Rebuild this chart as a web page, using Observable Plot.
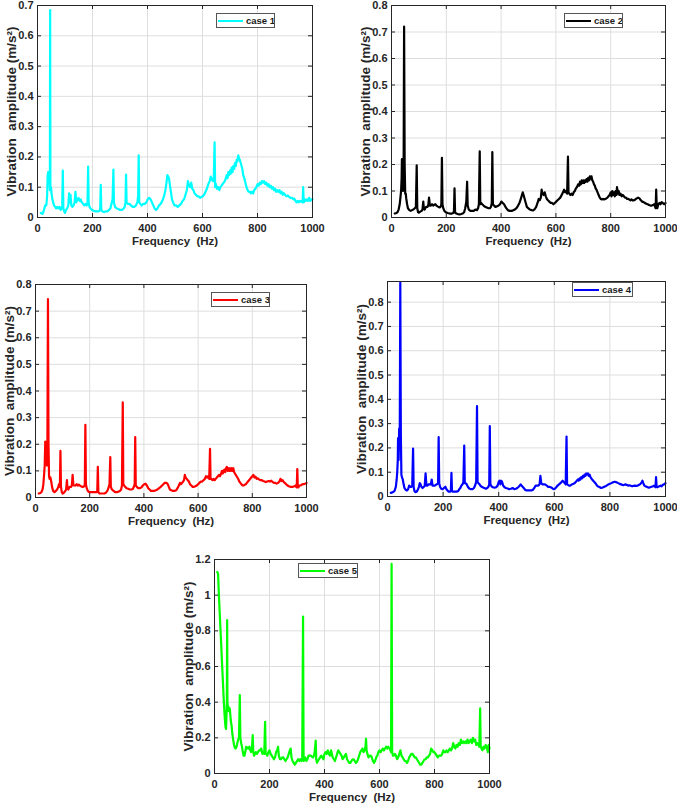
<!DOCTYPE html>
<html>
<head>
<meta charset="utf-8">
<script src="https://cdn.jsdelivr.net/npm/d3@7"></script>
<script src="https://cdn.jsdelivr.net/npm/@observablehq/plot@0.6"></script>
<style>
  body { margin: 0; background: #fff; }
  #page { position: relative; width: 677px; height: 804px; overflow: hidden; background: #fff;
          font-family: "Liberation Sans", Arial, Helvetica, sans-serif; }
  .panel { position: absolute; }
  .panel svg { display: block; }
  .legend { position: absolute; box-sizing: border-box; border: 1px solid #555; background: #fff;
            display: flex; align-items: center; white-space: nowrap; overflow: hidden;
            font-weight: bold; font-size: 9.5px; color: #1a1a1a; }
  .legend .swatch { display: inline-block; flex: none; width: 25px; height: 2px; margin: 0 3px 0 1px; }
</style>
</head>
<body>
<div id="page"></div>
<script>
// Spectra: [frequency (Hz), vibration amplitude (m/s^2)]
const case1 = [[12,.015],[18,.012],[22,.02],[25,.03],[28,.04],[32,.04],[35,.07],[37,.14],[39,.15],[41,.12],[43,.15],[45,.09],[46,.685],[47,.09],[49,.1],[51,.08],[54,.06],[57,.05],[60,.04],[64,.035],[68,.03],[72,.035],[76,.03],[80,.035],[84,.025],[88,.03],[90,.04],[92,.155],[94,.03],[97,.02],[100,.015],[104,.025],[108,.03],[112,.04],[115,.08],[117,.05],[120,.075],[123,.04],[127,.035],[131,.04],[135,.05],[138,.085],[141,.05],[145,.06],[149,.065],[153,.055],[157,.06],[161,.05],[166,.045],[170,.04],[175,.045],[179,.04],[182,.05],[184,.168],[186,.05],[189,.035],[193,.03],[198,.025],[205,.022],[212,.02],[220,.02],[226,.022],[228,.03],[230,.108],[232,.025],[236,.02],[242,.018],[248,.02],[254,.02],[260,.025],[265,.03],[269,.045],[273,.06],[276,.158],[278,.05],[282,.035],[288,.03],[294,.028],[300,.025],[306,.025],[312,.028],[317,.035],[320,.05],[322,.142],[324,.05],[328,.045],[334,.045],[340,.04],[346,.035],[352,.035],[358,.04],[363,.05],[366,.07],[368,.205],[370,.05],[374,.045],[379,.04],[384,.045],[390,.045],[396,.05],[401,.06],[406,.065],[411,.06],[416,.05],[421,.04],[426,.03],[431,.025],[436,.03],[442,.04],[448,.045],[454,.055],[460,.07],[465,.09],[469,.115],[472,.14],[475,.135],[478,.13],[481,.11],[485,.085],[489,.06],[493,.05],[498,.04],[504,.04],[510,.035],[516,.04],[522,.045],[528,.055],[533,.06],[538,.075],[543,.09],[547,.12],[551,.105],[555,.1],[559,.115],[563,.095],[567,.09],[571,.08],[576,.075],[581,.07],[586,.07],[591,.065],[596,.068],[601,.07],[606,.075],[611,.085],[616,.095],[621,.11],[626,.12],[630,.135],[634,.125],[638,.12],[641,.13],[644,.248],[646,.1],[649,.11],[653,.095],[657,.1],[661,.09],[665,.1],[669,.105],[673,.11],[677,.115],[681,.12],[685,.13],[688,.14],[691,.13],[694,.15],[697,.14],[700,.155],[703,.145],[706,.165],[709,.15],[712,.17],[715,.16],[718,.18],[721,.17],[724,.19],[727,.185],[730,.205],[733,.195],[736,.19],[739,.18],[742,.17],[745,.16],[748,.14],[752,.13],[756,.115],[760,.1],[764,.09],[768,.085],[772,.085],[776,.08],[780,.085],[784,.08],[788,.09],[792,.095],[796,.1],[800,.11],[804,.105],[808,.115],[812,.11],[816,.12],[820,.115],[824,.12],[828,.11],[832,.115],[836,.105],[840,.11],[844,.1],[848,.105],[852,.095],[856,.1],[860,.09],[864,.095],[868,.085],[872,.09],[876,.085],[880,.09],[884,.08],[888,.085],[892,.075],[896,.08],[900,.075],[905,.07],[910,.072],[915,.068],[920,.065],[925,.065],[930,.06],[934,.062],[938,.055],[942,.05],[946,.055],[950,.05],[954,.055],[958,.052],[962,.055],[964,.05],[966,.1],[968,.05],[972,.06],[976,.055],[980,.06],[984,.055],[988,.065],[992,.055],[996,.06],[1000,.06]];

const case2 = [[12,.015],[18,.017],[22,.02],[26,.03],[30,.05],[33,.08],[35,.1],[37,.15],[38,.22],[40,.13],[42,.1],[44,.12],[46,.72],[48,.2],[50,.09],[52,.09],[54,.07],[57,.05],[60,.035],[65,.028],[70,.025],[75,.028],[80,.03],[85,.035],[89,.04],[92,.197],[94,.035],[97,.02],[100,.018],[105,.022],[110,.025],[113,.03],[116,.06],[118,.035],[121,.03],[126,.04],[131,.04],[134,.045],[137,.075],[140,.045],[144,.045],[148,.05],[152,.045],[156,.048],[160,.05],[164,.045],[168,.042],[172,.04],[176,.038],[180,.042],[182,.05],[184,.225],[186,.05],[189,.035],[193,.025],[198,.02],[205,.017],[212,.015],[220,.015],[226,.017],[228,.025],[230,.11],[232,.02],[236,.015],[242,.013],[248,.012],[254,.013],[260,.015],[265,.02],[269,.035],[273,.06],[276,.135],[278,.045],[282,.03],[288,.025],[294,.025],[300,.025],[306,.03],[312,.028],[316,.035],[319,.05],[322,.25],[324,.05],[327,.055],[331,.05],[336,.045],[342,.04],[348,.038],[354,.035],[359,.035],[363,.04],[366,.055],[368,.247],[370,.05],[374,.045],[379,.04],[385,.042],[391,.045],[396,.05],[401,.06],[406,.055],[411,.05],[416,.04],[421,.032],[426,.027],[432,.025],[438,.025],[444,.027],[450,.03],[456,.035],[462,.045],[467,.055],[472,.07],[476,.085],[479,.095],[482,.085],[486,.07],[490,.055],[494,.04],[499,.035],[505,.03],[511,.028],[517,.027],[523,.032],[528,.04],[533,.055],[537,.07],[541,.065],[545,.075],[548,.105],[551,.09],[555,.085],[559,.095],[563,.08],[567,.07],[571,.065],[576,.06],[581,.055],[586,.055],[591,.05],[596,.055],[601,.06],[606,.065],[611,.07],[616,.075],[621,.085],[626,.095],[630,.105],[634,.095],[638,.1],[641,.09],[644,.23],[646,.095],[649,.09],[653,.085],[657,.09],[661,.085],[665,.095],[669,.1],[673,.11],[677,.115],[681,.125],[685,.12],[688,.135],[691,.125],[694,.14],[697,.13],[700,.14],[703,.13],[706,.14],[709,.135],[712,.145],[715,.135],[718,.15],[721,.14],[724,.155],[727,.145],[730,.155],[733,.14],[736,.135],[739,.125],[742,.12],[745,.11],[748,.105],[752,.095],[756,.085],[760,.075],[764,.07],[768,.068],[772,.07],[776,.068],[780,.07],[784,.072],[788,.075],[792,.08],[796,.085],[800,.095],[803,.08],[806,.1],[809,.085],[812,.095],[815,.08],[818,.1],[821,.085],[823,.115],[826,.09],[829,.1],[832,.085],[836,.09],[840,.08],[844,.085],[848,.08],[852,.075],[856,.075],[860,.07],[864,.07],[868,.068],[872,.065],[876,.068],[880,.065],[885,.065],[890,.068],[895,.072],[900,.075],[905,.072],[910,.065],[915,.06],[920,.058],[925,.055],[930,.052],[935,.05],[940,.047],[945,.045],[950,.045],[955,.047],[959,.05],[962,.04],[964,.035],[966,.105],[968,.04],[970,.035],[974,.05],[978,.055],[982,.05],[986,.058],[990,.055],[995,.05],[1000,.055]];

const case3 = [[12,.015],[18,.017],[22,.02],[26,.03],[29,.05],[32,.09],[34,.12],[36,.21],[38,.13],[40,.2],[42,.12],[44,.22],[46,.745],[48,.2],[50,.08],[52,.07],[55,.075],[58,.06],[61,.04],[65,.025],[70,.02],[75,.025],[80,.03],[84,.04],[87,.05],[90,.04],[92,.175],[94,.04],[97,.02],[100,.015],[105,.018],[110,.025],[113,.03],[116,.065],[118,.035],[121,.03],[126,.04],[131,.04],[134,.045],[137,.085],[140,.045],[144,.045],[148,.045],[152,.05],[156,.045],[160,.048],[164,.045],[168,.042],[172,.04],[176,.04],[180,.042],[182,.05],[184,.273],[186,.05],[189,.035],[193,.025],[198,.02],[205,.02],[212,.02],[220,.02],[226,.02],[228,.025],[230,.115],[232,.02],[236,.015],[242,.015],[248,.015],[254,.015],[260,.018],[265,.025],[269,.035],[273,.05],[276,.152],[278,.04],[282,.03],[288,.025],[294,.02],[300,.02],[306,.022],[312,.025],[316,.03],[319,.045],[322,.357],[324,.05],[327,.045],[331,.04],[336,.035],[342,.033],[348,.03],[354,.03],[359,.032],[363,.04],[366,.05],[368,.227],[370,.045],[374,.04],[379,.035],[385,.035],[391,.038],[396,.045],[401,.05],[406,.052],[411,.045],[416,.035],[421,.03],[426,.025],[432,.025],[438,.025],[444,.027],[450,.03],[456,.035],[462,.04],[467,.045],[472,.05],[476,.055],[480,.055],[484,.055],[488,.05],[492,.04],[496,.03],[501,.027],[507,.025],[513,.025],[519,.027],[524,.035],[529,.045],[533,.055],[537,.05],[541,.055],[545,.06],[548,.065],[551,.085],[554,.075],[558,.07],[562,.065],[566,.06],[570,.05],[575,.045],[580,.04],[585,.04],[590,.042],[595,.045],[600,.05],[605,.055],[610,.06],[615,.06],[620,.065],[625,.07],[629,.08],[633,.075],[637,.08],[641,.07],[644,.183],[646,.07],[649,.07],[653,.065],[657,.07],[661,.065],[665,.07],[669,.075],[673,.08],[677,.085],[681,.08],[685,.09],[688,.1],[691,.09],[694,.1],[697,.105],[700,.095],[703,.11],[706,.115],[709,.1],[712,.11],[715,.1],[718,.11],[721,.1],[724,.11],[727,.1],[730,.11],[733,.095],[736,.09],[739,.085],[742,.08],[745,.075],[748,.07],[752,.06],[756,.055],[760,.05],[764,.045],[768,.045],[772,.048],[776,.05],[780,.055],[784,.06],[788,.065],[792,.07],[796,.075],[800,.08],[804,.085],[808,.075],[812,.078],[816,.07],[820,.072],[825,.068],[830,.065],[835,.065],[840,.062],[845,.06],[850,.058],[855,.06],[860,.062],[865,.06],[870,.063],[875,.058],[880,.055],[885,.055],[890,.052],[895,.055],[900,.06],[904,.07],[908,.062],[912,.065],[916,.058],[920,.055],[925,.05],[930,.045],[935,.042],[940,.04],[945,.04],[950,.04],[955,.042],[959,.045],[962,.04],[964,.038],[966,.107],[968,.04],[970,.038],[974,.045],[978,.045],[982,.048],[986,.05],[990,.05],[995,.052],[1000,.055]];

const case4 = [[12,.015],[18,.017],[22,.02],[26,.025],[30,.04],[33,.07],[35,.1],[37,.15],[38,.24],[40,.15],[42,.28],[44,.2],[46,.88],[48,.25],[50,.09],[52,.08],[55,.07],[58,.05],[61,.035],[65,.028],[70,.025],[74,.03],[78,.045],[82,.04],[86,.04],[89,.045],[92,.197],[94,.04],[97,.022],[100,.018],[105,.02],[110,.03],[113,.04],[116,.055],[119,.05],[122,.04],[126,.035],[131,.04],[134,.045],[137,.095],[140,.045],[144,.045],[148,.05],[152,.05],[156,.05],[159,.07],[162,.045],[166,.045],[170,.045],[174,.048],[178,.05],[182,.055],[184,.245],[186,.055],[189,.04],[193,.032],[198,.03],[203,.035],[208,.04],[212,.03],[216,.025],[220,.02],[226,.02],[228,.025],[230,.097],[232,.022],[236,.02],[242,.02],[248,.02],[254,.022],[258,.03],[262,.035],[266,.045],[270,.05],[273,.06],[276,.21],[278,.055],[281,.055],[285,.05],[289,.04],[294,.033],[300,.03],[306,.03],[311,.035],[315,.045],[319,.06],[322,.372],[324,.06],[327,.055],[331,.05],[336,.042],[342,.038],[348,.035],[354,.032],[359,.035],[363,.04],[366,.05],[368,.29],[370,.05],[374,.042],[379,.038],[385,.036],[391,.038],[396,.045],[400,.06],[403,.065],[406,.05],[409,.065],[412,.06],[416,.045],[421,.038],[426,.035],[432,.033],[438,.03],[444,.032],[450,.035],[456,.03],[462,.032],[467,.035],[472,.04],[476,.045],[479,.05],[482,.045],[486,.04],[490,.035],[495,.028],[500,.025],[506,.025],[512,.025],[518,.025],[523,.028],[528,.035],[533,.045],[538,.045],[543,.045],[547,.05],[550,.085],[553,.055],[557,.05],[561,.05],[565,.05],[569,.048],[573,.045],[577,.04],[582,.04],[587,.038],[592,.035],[597,.03],[602,.032],[607,.038],[612,.045],[617,.05],[622,.055],[626,.06],[630,.065],[634,.06],[638,.055],[641,.05],[644,.247],[646,.05],[649,.048],[653,.045],[657,.045],[661,.048],[665,.05],[669,.052],[673,.055],[677,.06],[681,.065],[685,.07],[688,.065],[691,.075],[694,.07],[697,.08],[700,.075],[703,.085],[706,.08],[709,.09],[712,.085],[715,.095],[718,.09],[721,.095],[724,.085],[727,.09],[730,.08],[733,.075],[736,.07],[740,.065],[744,.06],[748,.055],[752,.048],[756,.042],[760,.04],[764,.038],[768,.035],[772,.036],[776,.038],[780,.04],[784,.042],[788,.045],[792,.048],[796,.05],[800,.052],[805,.055],[810,.058],[815,.06],[820,.06],[825,.058],[830,.055],[835,.052],[840,.05],[845,.048],[850,.047],[855,.05],[860,.048],[865,.045],[870,.046],[875,.044],[880,.042],[885,.044],[890,.045],[895,.044],[900,.045],[905,.048],[910,.052],[914,.058],[917,.065],[920,.055],[924,.045],[928,.042],[932,.04],[936,.038],[940,.036],[945,.038],[950,.04],[955,.042],[959,.045],[962,.04],[964,.038],[966,.08],[968,.04],[970,.038],[974,.04],[978,.042],[982,.045],[986,.042],[990,.048],[995,.05],[1000,.055]];

const case5 = [[10,1.13],[13,1.12],[16,1.0],[19,.9],[22,.8],[25,.7],[28,.6],[31,.5],[34,.4],[37,.32],[40,.26],[42,.25],[44,.35],[45,.4],[46,.86],[47,.4],[49,.37],[51,.35],[53,.37],[56,.36],[59,.3],[62,.27],[65,.22],[68,.19],[71,.16],[74,.145],[77,.14],[80,.15],[83,.17],[86,.19],[89,.2],[92,.44],[94,.2],[97,.17],[100,.15],[103,.12],[106,.1],[109,.1],[112,.12],[115,.15],[118,.14],[121,.145],[124,.14],[127,.15],[130,.13],[133,.12],[136,.14],[139,.215],[141,.12],[144,.1],[147,.11],[150,.12],[154,.11],[158,.12],[162,.13],[166,.13],[170,.14],[174,.11],[178,.12],[181,.11],[184,.29],[186,.11],[189,.11],[192,.1],[196,.12],[200,.13],[204,.11],[208,.1],[212,.09],[216,.08],[220,.09],[224,.12],[228,.13],[231,.15],[234,.1],[238,.08],[242,.08],[246,.09],[250,.09],[254,.08],[258,.07],[262,.08],[266,.09],[270,.11],[274,.13],[277,.14],[280,.09],[284,.07],[288,.06],[292,.05],[296,.06],[300,.07],[304,.08],[308,.07],[312,.08],[316,.07],[319,.08],[322,.88],[324,.07],[327,.08],[330,.09],[334,.07],[338,.08],[342,.1],[346,.1],[350,.1],[354,.095],[358,.09],[362,.1],[365,.13],[368,.185],[370,.08],[373,.06],[376,.07],[380,.08],[384,.09],[388,.1],[392,.09],[396,.08],[400,.11],[404,.12],[408,.11],[412,.13],[416,.11],[420,.1],[424,.13],[427,.11],[430,.09],[434,.08],[438,.07],[442,.09],[446,.11],[450,.13],[454,.12],[458,.11],[462,.1],[466,.08],[470,.09],[474,.1],[478,.11],[482,.08],[486,.07],[490,.06],[494,.06],[498,.07],[502,.08],[506,.08],[510,.07],[514,.06],[518,.065],[522,.08],[526,.1],[530,.12],[534,.13],[538,.14],[542,.12],[546,.13],[549,.15],[551,.195],[553,.13],[556,.11],[560,.09],[564,.1],[568,.1],[572,.09],[576,.07],[580,.06],[584,.07],[588,.09],[592,.1],[596,.12],[600,.13],[604,.12],[608,.13],[612,.14],[616,.13],[620,.14],[624,.15],[628,.14],[632,.15],[636,.14],[640,.13],[642,.12],[644,1.175],[646,.12],[649,.1],[652,.1],[656,.11],[660,.1],[664,.08],[668,.09],[672,.11],[676,.13],[680,.1],[684,.09],[688,.08],[692,.07],[696,.07],[700,.06],[704,.07],[708,.09],[712,.1],[716,.11],[720,.11],[724,.1],[728,.09],[732,.09],[736,.08],[740,.07],[744,.06],[748,.05],[752,.05],[756,.06],[760,.07],[764,.08],[768,.08],[772,.09],[776,.09],[780,.1],[784,.11],[788,.14],[792,.13],[796,.12],[800,.12],[804,.11],[808,.1],[812,.09],[816,.1],[820,.1],[824,.1],[828,.11],[832,.13],[836,.12],[840,.12],[844,.13],[848,.12],[852,.13],[856,.14],[860,.13],[864,.14],[868,.17],[872,.15],[876,.14],[880,.16],[884,.15],[888,.17],[892,.16],[896,.19],[900,.17],[904,.18],[908,.17],[912,.18],[916,.17],[920,.19],[924,.17],[928,.18],[932,.19],[936,.17],[940,.2],[944,.18],[948,.19],[952,.16],[956,.17],[960,.16],[963,.15],[966,.365],[968,.15],[971,.14],[974,.13],[978,.15],[982,.14],[986,.16],[990,.15],[994,.12],[997,.16],[1000,.14]];

// Axis ticks
const freqTicks = [0, 200, 400, 600, 800, 1000];
const ampTicks07 = [0, 0.1, 0.2, 0.3, 0.4, 0.5, 0.6, 0.7];
const ampTicks08 = [0, 0.1, 0.2, 0.3, 0.4, 0.5, 0.6, 0.7, 0.8];
const ampTicks12 = [0, 0.2, 0.4, 0.6, 0.8, 1, 1.2];

const caseNames = ["case 1", "case 2", "case 3", "case 4", "case 5"];
const caseColors = ["#00ffff", "#000000", "#ff0000", "#0000ff", "#00ff00"];
const yMax = [0.7, 0.8, 0.8, 0.885, 1.2];

const xLabel = "Frequency\u00a0\u00a0(Hz)";
const yLabel = "Vibration\u00a0\u00a0amplitude (m/s\u00b2)";

// Panel placement on the page (layout only)
const layout = [
  {data: case1, yTicks: ampTicks07, left: 0,   top: 0,   width: 340, height: 260, m: [5, 28, 43, 37],   legend: [216, 13, 59]},
  {data: case2, yTicks: ampTicks08, left: 340, top: 0,   width: 337, height: 260, m: [5, 12, 43, 51],   legend: [564, 13, 59]},
  {data: case3, yTicks: ampTicks08, left: 0,   top: 270, width: 340, height: 270, m: [14, 34, 43, 35],  legend: [211, 292, 59]},
  {data: case4, yTicks: ampTicks08, left: 340, top: 270, width: 337, height: 270, m: [11, 12, 44, 47],  legend: [572, 282, 61]},
  {data: case5, yTicks: ampTicks12, left: 170, top: 550, width: 340, height: 254, m: [9, 21, 31, 44],   legend: [298, 563, 60]}
];

const page = document.getElementById("page");
const ink = "#262626";
const gridColor = "#dedede";
const fontStack = "'Liberation Sans', Arial, Helvetica, sans-serif";

layout.forEach((p, i) => {
  const [mt, mr, mb, ml] = p.m;
  const plotW = p.width - ml - mr;
  const plotH = p.height - mt - mb;
  const chart = Plot.plot({
    width: p.width,
    height: p.height,
    marginTop: mt, marginRight: mr, marginBottom: mb, marginLeft: ml,
    style: {fontFamily: fontStack, fontSize: "11px", fontWeight: "bold", color: ink, background: "transparent", overflow: "visible"},
    x: {domain: [0, 1000]},
    y: {domain: [0, yMax[i]]},
    marks: [
      Plot.gridX(freqTicks, {stroke: gridColor, strokeOpacity: 1}),
      Plot.gridY(p.yTicks, {stroke: gridColor, strokeOpacity: 1}),
      Plot.line(p.data, {x: d => d[0], y: d => d[1], stroke: caseColors[i], strokeWidth: 2.2, strokeLinejoin: "round"}),
      // inward tick marks on all four sides
      Plot.tickX(freqTicks, {x: d => d, insetTop: plotH - 4, stroke: ink}),
      Plot.tickX(freqTicks, {x: d => d, insetBottom: plotH - 4, stroke: ink}),
      Plot.tickY(p.yTicks, {y: d => d, insetRight: plotW - 4, stroke: ink}),
      Plot.tickY(p.yTicks, {y: d => d, insetLeft: plotW - 4, stroke: ink}),
      Plot.frame({stroke: ink, strokeWidth: 1}),
      Plot.axisX(freqTicks, {tickSize: 0, tickPadding: 7, tickFormat: d => String(d), fontSize: 11, label: null}),
      Plot.axisY(p.yTicks, {tickSize: 0, tickPadding: 4, tickFormat: d => String(d), fontSize: 11, label: null}),
      Plot.axisX({tickSize: 0, ticks: [], label: xLabel, labelAnchor: "center", labelArrow: "none", labelOffset: 27, fontSize: 11.5}),
      Plot.axisY({tickSize: 0, ticks: [], label: yLabel, labelAnchor: "center", labelArrow: "none", labelOffset: 31, fontSize: 13.5})
    ]
  });
  const holder = document.createElement("div");
  holder.className = "panel";
  holder.style.left = p.left + "px";
  holder.style.top = p.top + "px";
  holder.appendChild(chart);
  page.appendChild(holder);

  // legend box
  const [lx, ly, lw] = p.legend;
  const lg = document.createElement("div");
  lg.className = "legend";
  lg.style.left = lx + "px";
  lg.style.top = ly + "px";
  lg.style.width = lw + "px";
  lg.style.height = "15px";
  const sw = document.createElement("span");
  sw.className = "swatch";
  sw.style.background = caseColors[i];
  const tx = document.createElement("span");
  tx.textContent = caseNames[i];
  lg.appendChild(sw);
  lg.appendChild(tx);
  page.appendChild(lg);
});
</script>
</body>
</html>
